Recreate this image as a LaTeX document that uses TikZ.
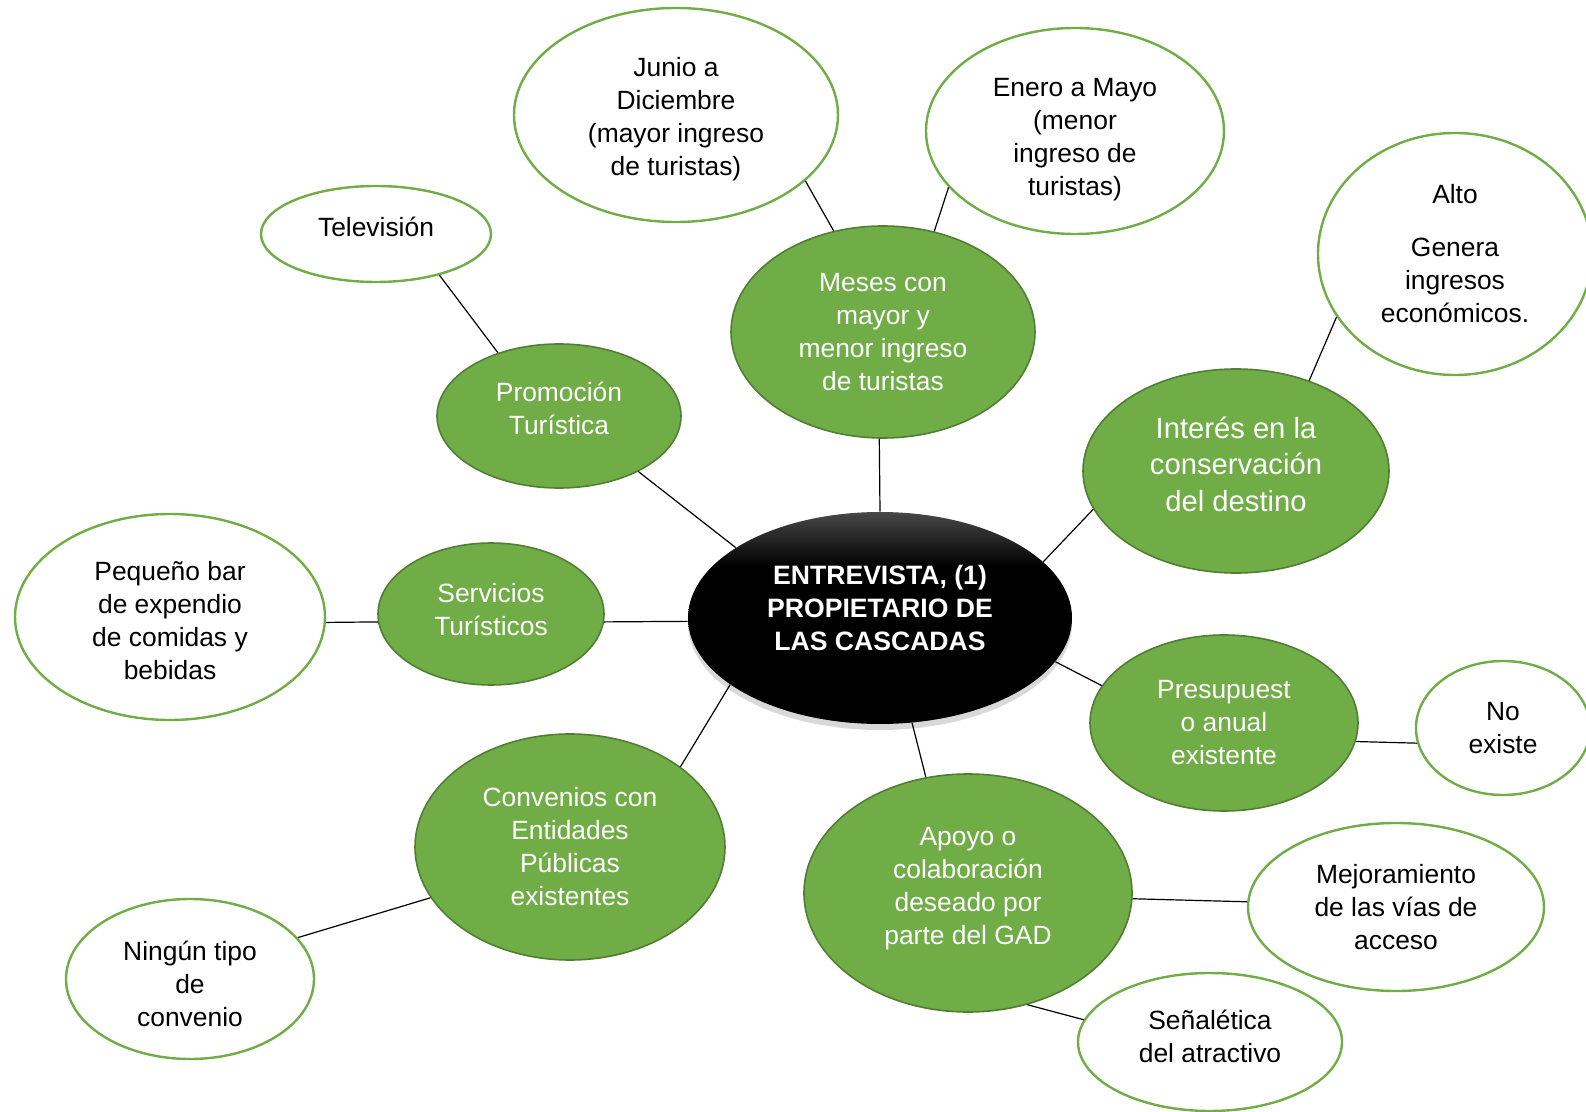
\documentclass[tikz,border=0pt]{standalone}
\usepackage{fontspec}
\setmainfont{Liberation Sans}
\usetikzlibrary{shapes.geometric,shadows}

\definecolor{verde}{HTML}{70AD47}
\definecolor{verdeosc}{HTML}{507E32}

% black centre with a light rim on top
\pgfdeclareverticalshading{brillo}{100bp}{color(0bp)=(black); color(62bp)=(black); color(75bp)=(black!72); color(100bp)=(black!72)}

% struts to move the text of a node up (depth) or down (height)
\newcommand{\hondo}[1]{\rule[-#1]{0pt}{#1}}
\newcommand{\techo}[1]{\rule{0pt}{#1}}

\tikzset{
  centro/.style={ellipse, inner sep=0pt, shading=brillo, text=white, align=center,
    font=\bfseries\fontsize{13.3}{16.5}\selectfont,
    drop shadow={shadow xshift=0pt, shadow yshift=-3pt, opacity=0.3}},
  tema/.style={ellipse, inner sep=0pt, fill=verde, draw=verdeosc, line width=0.8pt,
    text=white, align=center, font=\fontsize{13.2}{16.5}\selectfont},
  detalle/.style={ellipse, inner sep=0pt, fill=white, draw=verde, line width=1.2pt,
    text=black, align=center, font=\fontsize{13.2}{16.5}\selectfont},
  enlace/.style={draw=black, line width=0.6pt}
}

\begin{document}
\begin{tikzpicture}[x=0.5pt, y=-0.5pt]

  \useasboundingbox (0,0) rectangle (1586,1112);

  % centre
  \node[centro, minimum width=192pt, minimum height=106pt] (entrevista) at (880,618)
    {ENTREVISTA, (1)\\PROPIETARIO DE\\LAS CASCADAS\hondo{10pt}};

  % main topics
  \node[tema, minimum width=152pt, minimum height=106pt] (meses) at (883,332)
    {Meses con\\mayor y\\menor ingreso\\de turistas};
  \node[tema, minimum width=122pt, minimum height=72pt] (promocion) at (559,416)
    {Promoción\\Turística\hondo{8pt}};
  \node[tema, minimum width=153pt, minimum height=102pt, font=\fontsize{14.6}{18.2}\selectfont] (interes) at (1236,471)
    {Interés en la\\conservación\\del destino\hondo{7pt}};
  \node[tema, minimum width=113pt, minimum height=71pt] (servicios) at (491,614)
    {Servicios\\Turísticos\hondo{5pt}};
  \node[tema, minimum width=134pt, minimum height=88pt] (presupuesto) at (1224,723)
    {Presupuest\\o anual\\existente};
  \node[tema, minimum width=155pt, minimum height=113pt] (convenios) at (570,847)
    {Convenios con\\Entidades\\Públicas\\existentes};
  \node[tema, minimum width=164pt, minimum height=119pt] (apoyo) at (968,893)
    {Apoyo o\\colaboración\\deseado por\\parte del GAD\hondo{7pt}};

  % answers
  \node[detalle, minimum width=162pt, minimum height=107pt] (junio) at (676,115)
    {\techo{13.5pt}Junio a\\Diciembre\\(mayor ingreso\\de turistas)};
  \node[detalle, minimum width=149pt, minimum height=103pt] (enero) at (1075,131)
    {\techo{17.5pt}Enero a Mayo\\(menor\\ingreso de\\turistas)};
  \node[detalle, minimum width=115pt, minimum height=48pt] (television) at (376,234)
    {Televisión\hondo{7pt}};
  \node[detalle, minimum width=137pt, minimum height=121pt] (alto) at (1455,254)
    {Alto\\[10pt]Genera\\ingresos\\económicos.};
  \node[detalle, minimum width=155pt, minimum height=103pt] (bar) at (170,617)
    {\techo{13.5pt}Pequeño bar\\de expendio\\de comidas y\\bebidas};
  \node[detalle, minimum width=87pt, minimum height=67pt] (noexiste) at (1503,728)
    {No\\existe};
  \node[detalle, minimum width=124pt, minimum height=80pt] (ninguno) at (190,979)
    {\techo{14.5pt}Ningún tipo\\de\\convenio};
  \node[detalle, minimum width=148pt, minimum height=84pt] (vias) at (1396,907)
    {Mejoramiento\\de las vías de\\acceso};
  \node[detalle, minimum width=132pt, minimum height=69pt] (senaletica) at (1210,1042)
    {Señalética\\del atractivo\hondo{6pt}};

  % connectors
  \draw[enlace] (television.-33) -- (promocion.134);
  \draw[enlace] (promocion.-35) -- (entrevista.154);
  \draw[enlace] (junio.-27) -- (meses.116);
  \draw[enlace] (enero.204) -- (meses.63);
  \draw[enlace] (meses.-92) -- (entrevista.90);
  \draw[enlace] (alto.208) -- (interes.51);
  \draw[enlace] (interes.195) -- (entrevista.19);
  \draw[enlace] (bar.-2) -- (servicios.184);
  \draw[enlace] (servicios.-4) -- (entrevista.181);
  \draw[enlace] (entrevista.-14) -- (presupuesto.163);
  \draw[enlace] (presupuesto.-8) -- (noexiste.190);
  \draw[enlace] (entrevista.204) -- (convenios.36);
  \draw[enlace] (convenios.200) -- (ninguno.21);
  \draw[enlace] (entrevista.-73) -- (apoyo.110);
  \draw[enlace] (apoyo.-2) -- (vias.178);
  \draw[enlace] (apoyo.-62) -- (senaletica.170);

\end{tikzpicture}
\end{document}
